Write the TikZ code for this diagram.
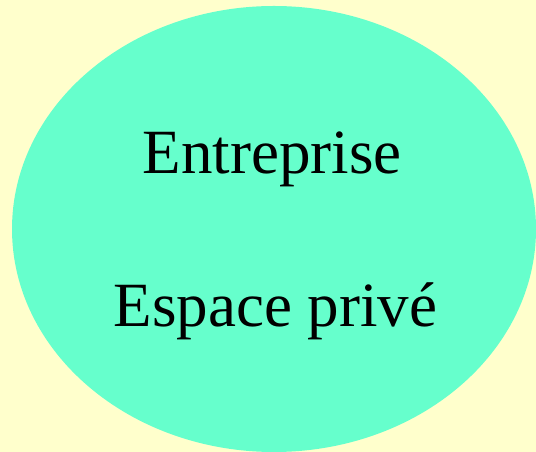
\documentclass[tikz,border=0pt]{standalone}
\usepackage{fontspec}
\setmainfont{Liberation Serif}
\usepackage{tikz}
\usetikzlibrary{shapes.geometric}
\definecolor{fondjaune}{HTML}{FFFFCC}
\definecolor{vertaqua}{HTML}{66FFCC}
\tikzset{
	zone/.style={ellipse, fill=vertaqua, draw=none, minimum width=524pt, minimum height=446pt, inner sep=0pt},
	etiquette/.style={anchor=base, font=\fontsize{63}{75}\selectfont, inner sep=0pt}
}

\begin{document}
\begin{tikzpicture}[x=1pt, y=1pt]
			%%%%% FOND %%%%%
			\fill[fondjaune] (0, 0) rectangle (536, 452);
			\useasboundingbox (0, 0) rectangle (536, 452);
			
			\node[zone] (entreprise) at (274, 223) {};
			
			\node[etiquette] (nom) at (272, 278) {Entreprise};
			\node[etiquette] (espace) at (275.5, 125) {Espace privé};
			
			%%%%% FIN %%%%%
\end{tikzpicture}
\end{document}
